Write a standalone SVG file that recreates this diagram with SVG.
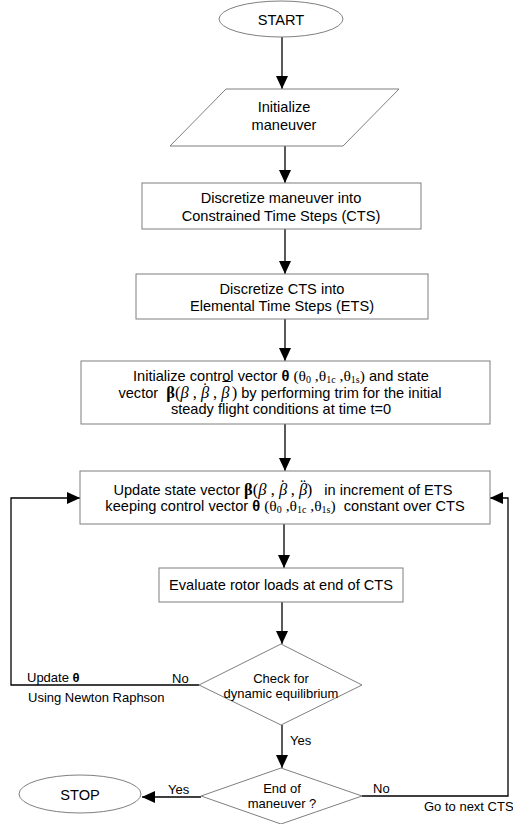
<svg xmlns="http://www.w3.org/2000/svg" width="513" height="824" viewBox="0 0 513 824">
<style>
.shape{fill:#fff;stroke:#7f7f7f;stroke-width:1}
.t{font-family:"Liberation Sans",Arial,sans-serif;font-size:14.6px;fill:#000;text-anchor:middle}
.l{font-family:"Liberation Sans",Arial,sans-serif;font-size:13px;fill:#000}
.s{font-size:13px}
.m{font-family:"Liberation Serif","Times New Roman",serif;font-size:15.5px}
.sub{font-size:10px}
.g{font-family:"Liberation Serif","Times New Roman",serif;font-size:16.5px}
.gb{font-family:"Liberation Serif","Times New Roman",serif;font-size:16.5px;font-weight:bold}
.b{font-weight:bold}
.i{font-style:italic}
.con{fill:none;stroke:#000;stroke-width:1.3}
</style>
<defs>
<marker id="ah" markerUnits="userSpaceOnUse" markerWidth="12" markerHeight="12" refX="13" refY="6" orient="auto"><path d="M0,0 L13,6 L0,12 z" fill="#000"/></marker>
</defs>
<rect width="513" height="824" fill="#fff"/>
<g id="connectors">
<path class="con" d="M282,37 V89" marker-end="url(#ah)"/>
<path class="con" d="M285,146 V183" marker-end="url(#ah)"/>
<path class="con" d="M285,229 V274" marker-end="url(#ah)"/>
<path class="con" d="M285,319 V361" marker-end="url(#ah)"/>
<path class="con" d="M285,424 V471" marker-end="url(#ah)"/>
<path class="con" d="M284,524 V568" marker-end="url(#ah)"/>
<path class="con" d="M282,602 V644" marker-end="url(#ah)"/>
<path class="con" d="M282,725 V768" marker-end="url(#ah)"/>
<path class="con" d="M201,797 H142" marker-end="url(#ah)"/>
<path class="con" d="M362,796 H508 V498 H490" marker-end="url(#ah)"/>
<path class="con" d="M199,685 H11 V498 H80" marker-end="url(#ah)"/>
</g>
<g id="start">
<ellipse class="shape" cx="281" cy="19" rx="62" ry="18"/>
<text class="t" x="281" y="25" font-size="15">START</text>
</g>
<g id="init-maneuver">
<polygon class="shape" points="226,89 399,89 343,146 170,146"/>
<text class="t" x="284" y="112">Initialize</text>
<text class="t" x="284" y="130">maneuver</text>
</g>
<g id="discretize-cts">
<rect class="shape" x="142" y="183" width="279" height="46"/>
<text class="t" x="281" y="203">Discretize maneuver into</text>
<text class="t" x="281" y="221">Constrained Time Steps (CTS)</text>
</g>
<g id="discretize-ets">
<rect class="shape" x="136" y="274" width="292" height="45"/>
<text class="t" x="282" y="294">Discretize CTS into</text>
<text class="t" x="282" y="311">Elemental Time Steps (ETS)</text>
</g>
<g id="init-control">
<rect class="shape" x="81" y="361" width="409" height="63"/>
<text class="t" x="281" y="381" xml:space="preserve">Initialize control vector <tspan class="b">θ</tspan> <tspan class="m">(θ</tspan><tspan class="m sub" dy="2">0</tspan><tspan class="m" dy="-2"> ,θ</tspan><tspan class="m sub" dy="2">1c</tspan><tspan class="m" dy="-2"> ,θ</tspan><tspan class="m sub" dy="2">1s</tspan><tspan class="m" dy="-2">)</tspan> and state</text>
<text class="t" x="280" y="398" xml:space="preserve">vector  <tspan class="gb">β</tspan><tspan class="g">(<tspan class="i">β</tspan> , <tspan class="i">β</tspan><tspan dx="-7" dy="-4">˙</tspan><tspan dx="1" dy="4"> , </tspan><tspan class="i">β</tspan><tspan dx="-7" dy="-4">¯</tspan><tspan dx="1" dy="4">)</tspan></tspan> by performing trim for the initial</text>
<text class="t" x="281" y="414">steady flight conditions at time t=0</text>
</g>
<g id="update-state">
<rect class="shape" x="80" y="471" width="410" height="53"/>
<text class="t" x="283" y="495" xml:space="preserve">Update state vector <tspan class="gb">β</tspan><tspan class="g">(<tspan class="i">β</tspan> , <tspan class="i">β</tspan><tspan dx="-7" dy="-4">˙</tspan><tspan dx="1" dy="4"> , </tspan><tspan class="i">β</tspan><tspan dx="-7" dy="-4">¨</tspan><tspan dx="1" dy="4">)</tspan></tspan>   in increment of ETS</text>
<text class="t" x="285" y="511" xml:space="preserve">keeping control vector <tspan class="b">θ</tspan> <tspan class="m">(θ</tspan><tspan class="m sub" dy="2">0</tspan><tspan class="m" dy="-2"> ,θ</tspan><tspan class="m sub" dy="2">1c</tspan><tspan class="m" dy="-2"> ,θ</tspan><tspan class="m sub" dy="2">1s</tspan><tspan class="m" dy="-2">)</tspan>  constant over CTS</text>
</g>
<g id="evaluate">
<rect class="shape" x="159" y="568" width="244" height="34"/>
<text class="t" x="281" y="590">Evaluate rotor loads at end of CTS</text>
</g>
<g id="check-equilibrium">
<polygon class="shape" points="281,644 362,685 281,725 199,685"/>
<text class="t s" x="281" y="683">Check for</text>
<text class="t s" x="281" y="698">dynamic equilibrium</text>
</g>
<g id="end-maneuver">
<polygon class="shape" points="281,768 362,796 281,824 201,796"/>
<text class="t s" x="282" y="793">End of</text>
<text class="t s" x="282" y="808">maneuver ?</text>
</g>
<g id="stop">
<ellipse class="shape" cx="80" cy="794" rx="61" ry="19"/>
<text class="t" x="80" y="800" font-size="15">STOP</text>
</g>
<g id="labels">
<text class="l" x="27" y="682">Update <tspan class="b">θ</tspan></text>
<text class="l" x="28" y="702" font-size="12">Using Newton Raphson</text>
<text class="l" x="172" y="683">No</text>
<text class="l" x="290" y="745">Yes</text>
<text class="l" x="168" y="794">Yes</text>
<text class="l" x="373" y="793">No</text>
<text class="l" x="424" y="811" font-size="12">Go to next CTS</text>
</g>
</svg>
